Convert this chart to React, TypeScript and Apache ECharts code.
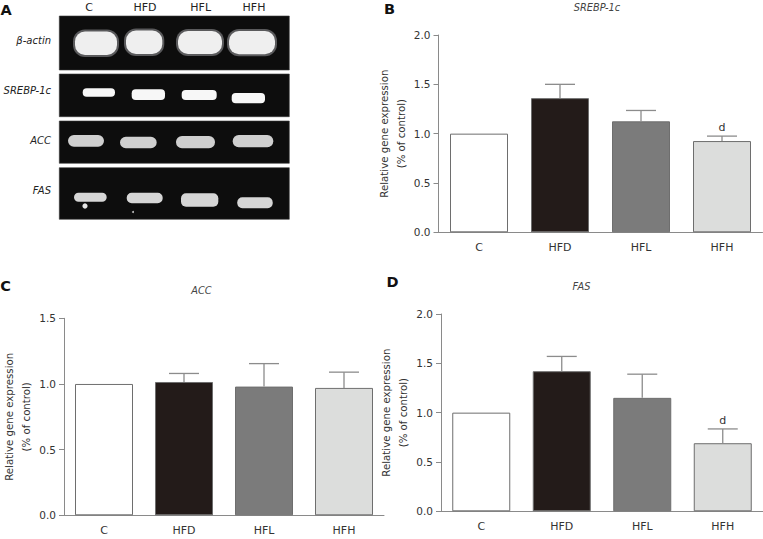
import { useEffect, useRef } from 'react';
import * as echarts from 'echarts';

// ---------- data ----------
const categories = ['C', 'HFD', 'HFL', 'HFH'];

const srebpMean = [1.0, 1.36, 1.125, 0.925];
const srebpSd = [0, 0.14, 0.11, 0.05];
const srebpSig = ['', '', '', 'd'];

const accMean = [1.0, 1.015, 0.98, 0.97];
const accSd = [0, 0.065, 0.175, 0.12];
const accSig = ['', '', '', ''];

const fasMean = [1.0, 1.42, 1.15, 0.69];
const fasSd = [0, 0.15, 0.24, 0.145];
const fasSig = ['', '', '', 'd'];

const yMaxB = 2.0;
const yMaxC = 1.5;
const yMaxD = 2.0;
const yStep = 0.5;

const geneLabels = ['β-actin', 'SREBP-1c', 'ACC', 'FAS'];
const yAxisName = 'Relative gene expression\n(% of control)';

// ---------- styling / picture geometry ----------
const barColors = ['#ffffff', '#231b19', '#7b7b7b', '#dcdddc'];
const FONT = 'DejaVu Sans';
const AXIS = '#8a8a8a';
const TXT = '#333333';

// gel picture (panel A): rows and band boxes [x1, x2, y1, y2]
const gelRows = [
  { y: 16, h: 54 },
  { y: 74, h: 42.7 },
  { y: 121, h: 42.3 },
  { y: 167.7, h: 51.6 },
];
const gelBands = [
  { fill: '#efefef', r: 10, glow: 2, boxes: [[75, 117, 31.5, 55], [126, 162.3, 30.5, 54], [178, 222, 31, 54], [229, 275, 31, 54.3]] },
  { fill: '#f7f7f7', r: 4, glow: 0, boxes: [[82.7, 115, 88.3, 96.7], [131.7, 165, 89.3, 100], [181.7, 216.7, 90, 100], [231.7, 265, 93, 103.3]] },
  { fill: '#cfcfcf', r: 6, glow: 0, boxes: [[68, 104, 135, 146.7], [120, 156.7, 136.7, 148.3], [176, 215, 136, 148.3], [232.7, 273.3, 135, 147.3]] },
  { fill: '#d6d6d6', r: 5, glow: 0, boxes: [[74, 106.7, 192.7, 201.7], [126.7, 162.7, 192.7, 203.3], [181, 218.3, 193.3, 206.7], [237.3, 272.7, 197.3, 208.3]] },
];
const laneX = [89, 145, 200.7, 254];
const geneY = [40, 90.7, 140, 190];

function makeErrSeries(axisIdx: number, mean: number[], sd: number[], sig: string[]) {
  return {
    type: 'custom',
    xAxisIndex: axisIdx,
    yAxisIndex: axisIdx,
    z: 5,
    silent: true,
    data: categories.map((_, i) => [i, mean[i], sd[i]]),
    encode: { x: 0, y: 1 },
    renderItem: (_params: any, api: any) => {
      const idx = api.value(0);
      const m = api.value(1);
      const s = api.value(2);
      const top = api.coord([idx, m]);
      const hi = api.coord([idx, m + s]);
      const children: any[] = [];
      if (s > 0) {
        children.push({
          type: 'line',
          shape: { x1: top[0], y1: top[1], x2: hi[0], y2: hi[1] },
          style: { stroke: '#8c8c8c', lineWidth: 1.3 },
        });
        children.push({
          type: 'line',
          shape: { x1: hi[0] - 15, y1: hi[1], x2: hi[0] + 15, y2: hi[1] },
          style: { stroke: '#8c8c8c', lineWidth: 1.3 },
        });
      }
      const lab = sig[idx];
      if (lab) {
        children.push({
          type: 'text',
          x: hi[0],
          y: hi[1] - 8.5,
          style: { text: lab, fill: TXT, fontSize: 11, fontFamily: FONT, align: 'center', verticalAlign: 'middle' },
        });
      }
      return { type: 'group', children };
    },
  };
}

function makeBarSeries(axisIdx: number, mean: number[]) {
  return {
    type: 'bar',
    xAxisIndex: axisIdx,
    yAxisIndex: axisIdx,
    barWidth: 58,
    data: mean.map((v, i) => ({
      value: v,
      itemStyle: { color: barColors[i], borderColor: '#6e6e6e', borderWidth: 1 },
    })),
  };
}

function xAxisOf(gridIndex: number) {
  return {
    type: 'category',
    gridIndex,
    data: categories,
    axisLine: { lineStyle: { color: AXIS, width: 1 } },
    axisTick: { alignWithLabel: true, length: 4, lineStyle: { color: AXIS } },
    axisLabel: { color: TXT, fontSize: 11, fontFamily: FONT, margin: 10 },
  };
}

function yAxisOf(gridIndex: number, max: number, gap: number) {
  return {
    type: 'value',
    gridIndex,
    min: 0,
    max,
    interval: yStep,
    name: yAxisName,
    nameLocation: 'middle',
    nameRotate: 90,
    nameGap: gap,
    nameTextStyle: { color: TXT, fontSize: 10.2, fontFamily: FONT, lineHeight: 17 },
    axisLine: { show: true, lineStyle: { color: AXIS, width: 1 } },
    axisTick: { show: true, length: 5, lineStyle: { color: AXIS } },
    axisLabel: { color: TXT, fontSize: 10.5, fontFamily: FONT, margin: 8, formatter: (v: number) => v.toFixed(1) },
    splitLine: { show: false },
  };
}

function txt(text: string, x: number, y: number, extra: any = {}) {
  return {
    type: 'text',
    x,
    y,
    silent: true,
    style: { text, fill: TXT, fontSize: 11, fontFamily: FONT, align: 'center', verticalAlign: 'middle', ...extra },
  };
}

export default function App() {
  const ref = useRef<HTMLDivElement>(null);
  useEffect(() => {
    if (!ref.current) return;
    const chart = echarts.init(ref.current, undefined, { renderer: 'svg' });

    const graphics: any[] = [];
    gelRows.forEach((r) => {
      graphics.push({ type: 'rect', silent: true, shape: { x: 59.3, y: r.y, width: 230, height: r.h }, style: { fill: '#0d0d0d', stroke: '#3a3a3a', lineWidth: 0.6 } });
    });
    gelBands.forEach((row) => {
      row.boxes.forEach((b) => {
        const g = row.glow;
        if (g > 0) {
          graphics.push({
            type: 'rect',
            silent: true,
            shape: { x: b[0] - g, y: b[2] - g, width: b[1] - b[0] + 2 * g, height: b[3] - b[2] + 2 * g, r: row.r + g },
            style: { fill: 'rgba(235,235,240,0.35)' },
          });
        }
        graphics.push({
          type: 'rect',
          silent: true,
          shape: { x: b[0], y: b[2], width: b[1] - b[0], height: b[3] - b[2], r: row.r },
          style: { fill: row.fill },
        });
      });
    });
    graphics.push({ type: 'circle', silent: true, shape: { cx: 85, cy: 206, r: 2.6 }, style: { fill: '#e6e6e6' } });
    graphics.push({ type: 'circle', silent: true, shape: { cx: 133, cy: 212, r: 1 }, style: { fill: '#bdbdbd' } });
    categories.forEach((c, i) => graphics.push(txt(c, laneX[i], 7.5, { fontSize: 11, fill: '#222' })));
    geneLabels.forEach((g, i) =>
      graphics.push(txt(g, 51, geneY[i], { align: 'right', fontStyle: 'italic', fontSize: 10, fill: '#222' }))
    );
    // panel letters
    graphics.push(txt('A', 6, 9.5, { fontWeight: 'bold', fontSize: 14.5, fill: '#111' }));
    graphics.push(txt('B', 389.5, 8.5, { fontWeight: 'bold', fontSize: 14.5, fill: '#111' }));
    graphics.push(txt('C', 5.5, 286, { fontWeight: 'bold', fontSize: 14.5, fill: '#111' }));
    graphics.push(txt('D', 392.5, 281.5, { fontWeight: 'bold', fontSize: 14.5, fill: '#111' }));
    // chart titles
    graphics.push(txt('SREBP-1c', 597, 7.5, { fontStyle: 'italic', fontSize: 9.8, fill: '#444' }));
    graphics.push(txt('ACC', 201.5, 290.5, { fontStyle: 'italic', fontSize: 9.8, fill: '#444' }));
    graphics.push(txt('FAS', 581.5, 286.5, { fontStyle: 'italic', fontSize: 9.8, fill: '#444' }));

    chart.setOption({
      animation: false,
      backgroundColor: '#ffffff',
      grid: [
        { left: 438.5, top: 35, width: 324, height: 197.3 },
        { left: 60, top: 318.3, width: 324, height: 197 },
        { left: 441, top: 314, width: 324, height: 197.3 },
      ],
      xAxis: [xAxisOf(0), xAxisOf(1), xAxisOf(2)],
      yAxis: [yAxisOf(0, yMaxB, 29), yAxisOf(1, yMaxC, 29), yAxisOf(2, yMaxD, 26.5)],
      series: [
        makeBarSeries(0, srebpMean),
        makeErrSeries(0, srebpMean, srebpSd, srebpSig),
        makeBarSeries(1, accMean),
        makeErrSeries(1, accMean, accSd, accSig),
        makeBarSeries(2, fasMean),
        makeErrSeries(2, fasMean, fasSd, fasSig),
      ],
      graphic: graphics,
    });
    return () => chart.dispose();
  }, []);
  return <div ref={ref} style={{ position: 'fixed', left: 0, top: 0, width: 763, height: 539, background: '#fff' }} />;
}
